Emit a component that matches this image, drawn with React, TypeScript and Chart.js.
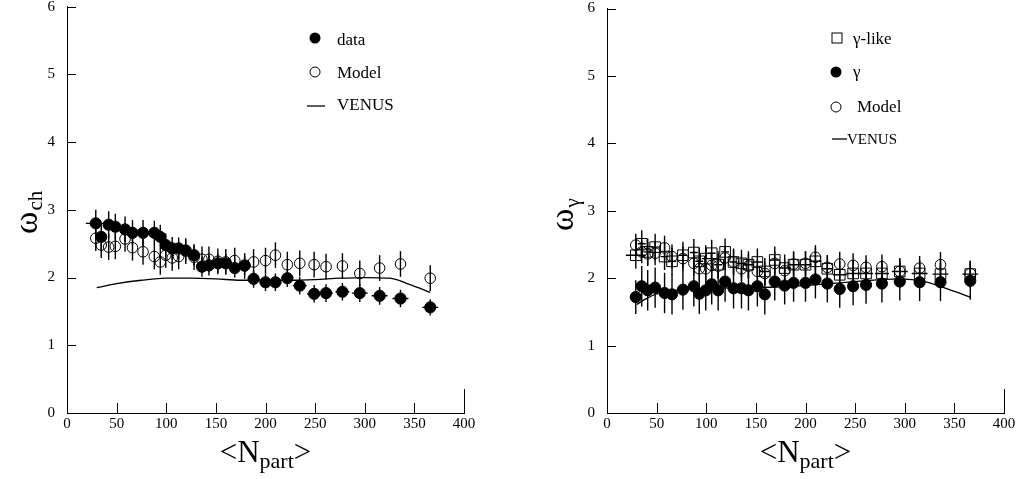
import React, { useEffect, useRef } from "react";
import { Chart, registerables } from "chart.js";
Chart.register(...registerables);

const SERIF = '"Liberation Serif", "Times New Roman", Times, serif';

const xTickValues = [0, 50, 100, 150, 200, 250, 300, 350, 400];
const yTickValues = [0, 1, 2, 3, 4, 5, 6];

// ---------- left panel: omega_ch ----------
const chNpart = [29, 34.5, 42, 48.7, 58.5, 66, 76.6, 88, 94, 99.5, 106, 112.5, 119.6, 128, 136, 143, 152, 160, 169, 179, 188, 200, 210, 222, 234.5, 249, 261, 277.5, 295, 315, 336, 366];
const chData = [2.80, 2.60, 2.78, 2.75, 2.71, 2.66, 2.66, 2.66, 2.60, 2.48, 2.43, 2.43, 2.40, 2.33, 2.16, 2.18, 2.21, 2.21, 2.14, 2.18, 1.98, 1.93, 1.93, 1.99, 1.88, 1.76, 1.77, 1.79, 1.77, 1.73, 1.69, 1.56];
const chDataErrY = [0.2, 0.2, 0.2, 0.19, 0.19, 0.19, 0.19, 0.18, 0.18, 0.17, 0.17, 0.16, 0.16, 0.15, 0.15, 0.15, 0.14, 0.14, 0.14, 0.14, 0.13, 0.13, 0.13, 0.13, 0.13, 0.13, 0.13, 0.13, 0.13, 0.13, 0.13, 0.12];
const chDataErrX = [10, 4, 4, 4, 4, 4, 4, 4, 4, 4, 4, 4, 4, 4, 5, 5, 5, 5, 5, 6, 6, 6, 6, 6, 7, 7, 7, 7, 8, 8, 8, 8];
const chModel = [2.58, 2.48, 2.45, 2.46, 2.57, 2.44, 2.38, 2.31, 2.23, 2.33, 2.29, 2.31, 2.39, 2.30, 2.27, 2.27, 2.24, 2.23, 2.25, 2.17, 2.23, 2.25, 2.33, 2.19, 2.21, 2.19, 2.16, 2.17, 2.06, 2.14, 2.20, 1.99];
const chModelErrY = [0.19, 0.19, 0.19, 0.19, 0.19, 0.19, 0.19, 0.19, 0.19, 0.19, 0.19, 0.19, 0.19, 0.19, 0.19, 0.19, 0.19, 0.19, 0.19, 0.19, 0.19, 0.19, 0.19, 0.19, 0.19, 0.19, 0.19, 0.19, 0.19, 0.19, 0.19, 0.19];
const chVenusX = [30, 50, 75, 100, 125, 150, 175, 200, 225, 250, 275, 300, 325, 345, 366];
const chVenusY = [1.85, 1.91, 1.96, 1.99, 1.99, 1.98, 1.96, 1.96, 1.96, 1.97, 1.99, 2.0, 1.99, 1.90, 1.78];

// ---------- right panel: omega_gamma ----------
const gNpart = [29, 35, 41, 48.5, 58, 65.5, 76.5, 87.5, 93, 99.5, 105.5, 112, 119, 127.5, 135.5, 142.5, 151.5, 159, 169, 179, 188, 200, 210, 222, 234.5, 248, 261, 277, 295, 315, 336, 366];
const gLike = [2.34, 2.51, 2.39, 2.46, 2.32, 2.25, 2.34, 2.38, 2.25, 2.29, 2.37, 2.20, 2.39, 2.24, 2.22, 2.20, 2.24, 2.10, 2.27, 2.15, 2.20, 2.20, 2.25, 2.14, 2.05, 2.07, 2.07, 2.07, 2.10, 2.07, 2.06, 2.06];
const gLikeErrY = [0.2, 0.2, 0.2, 0.2, 0.2, 0.2, 0.2, 0.2, 0.2, 0.2, 0.2, 0.2, 0.2, 0.2, 0.2, 0.2, 0.2, 0.2, 0.2, 0.2, 0.2, 0.2, 0.2, 0.2, 0.2, 0.2, 0.2, 0.2, 0.2, 0.2, 0.2, 0.2];
const gLikeErrX = [10, 4, 4, 4, 4, 4, 4, 4, 4, 4, 4, 4, 4, 4, 5, 5, 5, 5, 5, 6, 6, 6, 6, 6, 7, 7, 7, 7, 8, 8, 8, 8];
const gData = [1.72, 1.88, 1.82, 1.86, 1.78, 1.76, 1.83, 1.88, 1.77, 1.82, 1.91, 1.82, 1.95, 1.85, 1.85, 1.82, 1.88, 1.76, 1.95, 1.89, 1.93, 1.93, 1.98, 1.92, 1.84, 1.88, 1.90, 1.92, 1.95, 1.94, 1.94, 1.96];
const gDataErrY = [0.25, 0.3, 0.3, 0.3, 0.3, 0.3, 0.3, 0.3, 0.3, 0.3, 0.3, 0.3, 0.3, 0.3, 0.3, 0.3, 0.3, 0.3, 0.28, 0.28, 0.28, 0.28, 0.28, 0.28, 0.28, 0.28, 0.28, 0.28, 0.28, 0.28, 0.28, 0.28];
const gModel = [2.49, 2.39, 2.36, 2.37, 2.45, 2.32, 2.29, 2.22, 2.14, 2.14, 2.19, 2.18, 2.30, 2.24, 2.14, 2.18, 2.10, 2.07, 2.22, 2.11, 2.21, 2.22, 2.31, 2.16, 2.21, 2.19, 2.16, 2.17, 2.10, 2.15, 2.20, 2.07];
const gModelErrY = [0.17, 0.17, 0.18, 0.18, 0.18, 0.18, 0.18, 0.18, 0.18, 0.18, 0.18, 0.18, 0.18, 0.18, 0.18, 0.18, 0.18, 0.18, 0.18, 0.18, 0.18, 0.18, 0.18, 0.18, 0.18, 0.18, 0.18, 0.18, 0.18, 0.18, 0.19, 0.19];
const gVenusX = [30, 40, 53, 75, 100, 150, 200, 250, 295, 320, 345, 366];
const gVenusY = [1.61, 1.70, 1.78, 1.83, 1.85, 1.86, 1.89, 1.95, 1.99, 1.95, 1.83, 1.72];

const pts = (xs: number[], ys: number[]) => xs.map((x, i) => ({ x, y: ys[i] }));

const errorBarPlugin = {
  id: "errbars",
  beforeDatasetsDraw(chart: any) {
    const { ctx } = chart;
    const xs = chart.scales.x;
    const ys = chart.scales.y;
    ctx.save();
    ctx.strokeStyle = "#000";
    ctx.lineWidth = 1.4;
    chart.data.datasets.forEach((ds: any) => {
      if (!ds.errY) return;
      ds.data.forEach((p: any, i: number) => {
        const px = xs.getPixelForValue(p.x);
        const py = ys.getPixelForValue(p.y);
        const ey = ds.errY[i];
        const ex = ds.errX ? ds.errX[i] : 0;
        ctx.beginPath();
        ctx.moveTo(px, ys.getPixelForValue(p.y + ey));
        ctx.lineTo(px, ys.getPixelForValue(p.y - ey));
        if (ex) {
          ctx.moveTo(xs.getPixelForValue(p.x - ex), py);
          ctx.lineTo(xs.getPixelForValue(p.x + ex), py);
        }
        ctx.stroke();
      });
    });
    ctx.restore();
  },
};

const decoPlugin = {
  id: "deco",
  afterDraw(chart: any, _args: any, opts: any) {
    const { ctx, chartArea } = chart;
    const xs = chart.scales.x;
    const ys = chart.scales.y;
    ctx.save();
    ctx.strokeStyle = "#000";
    ctx.fillStyle = "#000";
    ctx.lineWidth = 1;
    // inward ticks
    ctx.beginPath();
    xTickValues.forEach((v) => {
      if (v === 0) return;
      const px = Math.round(xs.getPixelForValue(v)) + 0.5;
      const len = v === 400 ? 24 : 10;
      ctx.moveTo(px, chartArea.bottom);
      ctx.lineTo(px, chartArea.bottom - len);
    });
    yTickValues.forEach((v) => {
      if (v === 0) return;
      const py = Math.round(ys.getPixelForValue(v)) + 0.5;
      ctx.moveTo(chartArea.left, py);
      ctx.lineTo(chartArea.left + 9, py);
    });
    ctx.stroke();

    // y title (rotated)
    ctx.save();
    ctx.textBaseline = "alphabetic";
    ctx.textAlign = "left";
    ctx.font = `34px ${SERIF}`;
    const wMain = ctx.measureText(opts.yMain).width;
    ctx.translate(opts.yBaseX, opts.yStartY);
    ctx.rotate(-Math.PI / 2);
    ctx.fillText(opts.yMain, 0, 0);
    ctx.font = `21px ${SERIF}`;
    ctx.fillText(opts.ySub, wMain + 1, opts.ySubBaseX - opts.yBaseX);
    ctx.restore();

    // x title <N_part>
    ctx.textBaseline = "alphabetic";
    ctx.textAlign = "left";
    ctx.font = `31px ${SERIF}`;
    const w1 = ctx.measureText("<N").width;
    const w3 = ctx.measureText(">").width;
    ctx.font = `22px ${SERIF}`;
    const w2 = ctx.measureText("part").width;
    const cx = (chartArea.left + chartArea.right) / 2;
    const x0 = cx - (w1 + w2 + w3) / 2;
    ctx.font = `31px ${SERIF}`;
    ctx.fillText("<N", x0, 462);
    ctx.font = `22px ${SERIF}`;
    ctx.fillText("part", x0 + w1, 468);
    ctx.font = `31px ${SERIF}`;
    ctx.fillText(">", x0 + w1 + w2, 462);

    // legend
    (opts.legend || []).forEach((it: any) => {
      ctx.lineWidth = 1;
      if (it.kind === "filled") {
        ctx.beginPath();
        ctx.arc(it.mx, it.my, 5.5, 0, Math.PI * 2);
        ctx.fill();
      } else if (it.kind === "open") {
        ctx.beginPath();
        ctx.arc(it.mx, it.my, 5, 0, Math.PI * 2);
        ctx.stroke();
      } else if (it.kind === "square") {
        ctx.strokeRect(it.mx - 5, it.my - 5, 10, 10);
      } else {
        ctx.lineWidth = 1.3;
        ctx.beginPath();
        ctx.moveTo(it.x1, it.my);
        ctx.lineTo(it.x2, it.my);
        ctx.stroke();
      }
      ctx.font = `${it.size}px ${SERIF}`;
      ctx.fillText(it.text, it.tx, it.ty);
    });
    ctx.restore();
  },
};

function makeOptions(yAxisWidth: number, padRight: number, deco: any) {
  return {
    responsive: false,
    animation: false,
    devicePixelRatio: 1,
    events: [],
    layout: { padding: { top: 3, right: padRight, bottom: 0, left: 0 } },
    plugins: { legend: { display: false }, tooltip: { enabled: false }, deco },
    scales: {
      x: {
        type: "linear",
        min: 0,
        max: 400,
        afterBuildTicks: (s: any) => {
          s.ticks = xTickValues.map((v) => ({ value: v }));
        },
        ticks: { font: { family: SERIF, size: 15 }, color: "#000", padding: 2, maxRotation: 0, autoSkip: false },
        grid: { display: false, drawTicks: false },
        border: { display: true, color: "#000", width: 1 },
        afterFit: (s: any) => {
          s.height = 66;
          s.paddingLeft = 0;
          s.paddingRight = 0;
        },
      },
      y: {
        type: "linear",
        min: 0,
        max: 6,
        afterBuildTicks: (s: any) => {
          s.ticks = yTickValues.map((v) => ({ value: v }));
        },
        ticks: { font: { family: SERIF, size: 15 }, color: "#000", padding: 12 },
        grid: { display: false, drawTicks: false },
        border: { display: true, color: "#000", width: 1 },
        afterFit: (s: any) => {
          s.width = yAxisWidth;
          s.paddingTop = 0;
          s.paddingBottom = 0;
        },
      },
    },
  };
}

const filledStyle = { pointStyle: "circle", pointRadius: 5.6, backgroundColor: "#000", borderColor: "#000", borderWidth: 1, showLine: false };
const openStyle = { pointStyle: "circle", pointRadius: 5.3, backgroundColor: "rgba(0,0,0,0)", borderColor: "#000", borderWidth: 1, showLine: false };
const squareStyle = { pointStyle: "rect", pointRadius: 7.5, backgroundColor: "rgba(0,0,0,0)", borderColor: "#000", borderWidth: 1, showLine: false };
const lineStyle = { showLine: true, pointRadius: 0, borderColor: "#000", borderWidth: 1.3, backgroundColor: "#000", cubicInterpolationMode: "monotone", fill: false };

export default function App() {
  const leftRef = useRef<HTMLCanvasElement>(null);
  const rightRef = useRef<HTMLCanvasElement>(null);

  useEffect(() => {
    const left = new Chart(leftRef.current as HTMLCanvasElement, {
      type: "scatter",
      data: {
        datasets: [
          { label: "data", data: pts(chNpart, chData), errY: chDataErrY, errX: chDataErrX, ...filledStyle } as any,
          { label: "Model", data: pts(chNpart, chModel), errY: chModelErrY, ...openStyle } as any,
          { label: "VENUS", data: pts(chVenusX, chVenusY), ...lineStyle } as any,
        ],
      },
      options: makeOptions(67, 46, {
        yMain: "ω",
        ySub: "ch",
        yBaseX: 37,
        yStartY: 234,
        ySubBaseX: 42,
        legend: [
          { kind: "filled", mx: 315, my: 38, text: "data", tx: 337, ty: 45, size: 17 },
          { kind: "open", mx: 315, my: 72, text: "Model", tx: 337, ty: 78, size: 17 },
          { kind: "line", x1: 307, x2: 325, my: 106, text: "VENUS", tx: 337, ty: 110, size: 17 },
        ],
      }) as any,
      plugins: [errorBarPlugin, decoPlugin],
    });
    const right = new Chart(rightRef.current as HTMLCanvasElement, {
      type: "scatter",
      data: {
        datasets: [
          { label: "γ", data: pts(gNpart, gData), errY: gDataErrY, ...filledStyle } as any,
          { label: "γ-like", data: pts(gNpart, gLike), errY: gLikeErrY, errX: gLikeErrX, ...squareStyle } as any,
          { label: "Model", data: pts(gNpart, gModel), errY: gModelErrY, ...openStyle } as any,
          { label: "VENUS", data: pts(gVenusX, gVenusY), ...lineStyle } as any,
        ],
      },
      options: makeOptions(97, 16, {
        yMain: "ω",
        ySub: "γ",
        yBaseX: 63,
        yStartY: 231,
        ySubBaseX: 69,
        legend: [
          { kind: "square", mx: 327, my: 38, text: "γ-like", tx: 343, ty: 44, size: 17 },
          { kind: "filled", mx: 326, my: 72, text: "γ", tx: 343, ty: 77, size: 17 },
          { kind: "open", mx: 326, my: 107, text: "Model", tx: 347, ty: 112, size: 17 },
          { kind: "line", x1: 322, x2: 337, my: 139, text: "VENUS", tx: 337, ty: 144, size: 15 },
        ],
      }) as any,
      plugins: [errorBarPlugin, decoPlugin],
    });
    return () => {
      left.destroy();
      right.destroy();
    };
  }, []);

  return (
    <div style={{ position: "absolute", left: 0, top: 0, width: 1020, height: 479, background: "#fff" }}>
      <canvas ref={leftRef} width={510} height={479} style={{ position: "absolute", left: 0, top: 0, width: 510, height: 479 }} />
      <canvas ref={rightRef} width={510} height={479} style={{ position: "absolute", left: 510, top: 0, width: 510, height: 479 }} />
    </div>
  );
}
